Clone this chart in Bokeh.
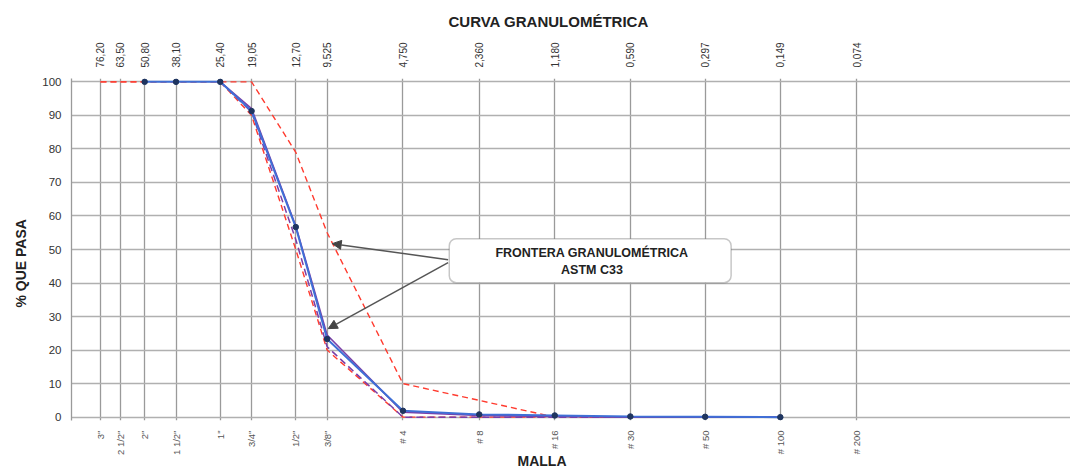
import math
from bokeh.plotting import figure
from bokeh.models import (Range1d, LogAxis, FixedTicker, CustomJSTickFormatter, Label,
                          BoxAnnotation, Arrow, NormalHead, Title)
from bokeh.embed import file_html
from bokeh.resources import INLINE

# ---- data ----
sieve_mm = [76.2, 63.5, 50.8, 38.1, 25.4, 19.05, 12.7, 9.525, 4.75, 2.36, 1.18, 0.59, 0.297, 0.149, 0.074]
size_labels = ["76,20", "63,50", "50,80", "38,10", "25,40", "19,05", "12,70", "9,525",
               "4,750", "2,360", "1,180", "0,590", "0,297", "0,149", "0,074"]
mesh_labels = ['3"', '2 1/2"', '2"', '1 1/2"', '1"', '3/4"', '1/2"', '3/8"',
               '# 4', '# 8', '# 16', '# 30', '# 50', '# 100', '# 200']
y_ticks = [0, 10, 20, 30, 40, 50, 60, 70, 80, 90, 100]

sample_mm = [50.8, 38.1, 25.4, 19.05, 12.7, 9.525, 4.75, 2.36, 1.18, 0.59, 0.297, 0.149]
sample_pass = [100, 100, 100, 91.3, 56.7, 23.3, 1.9, 0.8, 0.5, 0.2, 0.1, 0.0]

limit_mm = [76.2, 63.5, 50.8, 38.1, 25.4, 19.05, 12.7, 9.525, 4.75, 2.36, 1.18, 0.59, 0.297, 0.149]
upper_pass = [100, 100, 100, 100, 100, 100, 79, 55, 10, 5, 0, 0, 0, 0]
lower_pass = [100, 100, 100, 100, 100, 90, 50, 20, 0, 0, 0, 0, 0, 0]

trend_mm = [25.4, 19.05, 12.7, 9.525, 4.75, 2.36, 1.18, 0.59, 0.297, 0.149]
trend_pass = [100, 92, 57, 24.5, 1.5, 0.5, 0.2, 0, 0, 0]
trend_low_pass = [100, 91, 53, 21, 0, 0, 0, 0, 0, 0]

FONT = "Liberation Sans"

p = figure(width=1070, height=467, x_axis_type="log",
           x_range=Range1d(99.4, 0.0104), y_range=Range1d(-1, 101),
           output_backend="svg", toolbar_location=None,
           min_border_left=70, min_border_right=0, min_border_top=78, min_border_bottom=47)
p.outline_line_color = None
p.background_fill_color = "white"

p.title = Title(text="CURVA GRANULOMÉTRICA", align="left", offset=377, standoff=19,
                text_font=FONT, text_font_style="bold", text_font_size="15px",
                text_color="#222222")

fmt_code = """
let best = 0; let bd = Infinity;
for (let i = 0; i < sv.length; i++) {
  const d = Math.abs(Math.log(tick) - Math.log(sv[i]));
  if (d < bd) { bd = d; best = i; }
}
return lab[best];
"""

# bottom axis (mesh)
xb = p.xaxis[0]
xb.ticker = FixedTicker(ticks=sieve_mm)
xb.formatter = CustomJSTickFormatter(args=dict(sv=sieve_mm, lab=mesh_labels), code=fmt_code)
xb.major_label_orientation = math.pi / 2
xb.major_label_standoff = 10
xb.major_tick_out = 0
xb.major_tick_in = 0
xb.minor_tick_out = 0
xb.minor_tick_in = 0
xb.axis_line_color = None
xb.major_label_text_font = FONT
xb.major_label_text_font_size = "9.5px"
xb.major_label_text_color = "#555555"

# top axis (mm)
xt = LogAxis(ticker=FixedTicker(ticks=sieve_mm),
             formatter=CustomJSTickFormatter(args=dict(sv=sieve_mm, lab=size_labels), code=fmt_code))
xt.major_label_orientation = "vertical"
xt.major_label_standoff = 11
xt.major_tick_out = 0
xt.major_tick_in = 0
xt.minor_tick_out = 0
xt.minor_tick_in = 0
xt.axis_line_color = None
xt.major_label_text_font = FONT
xt.major_label_text_font_size = "10px"
xt.major_label_text_color = "#333333"
p.add_layout(xt, "above")

# y axis
ya = p.yaxis[0]
ya.ticker = FixedTicker(ticks=y_ticks)
ya.major_tick_out = 0
ya.major_tick_in = 0
ya.minor_tick_out = 0
ya.minor_tick_in = 0
ya.axis_line_color = "#9a9a9a"
ya.axis_line_width = 1.3
ya.major_label_standoff = 10
ya.major_label_text_font = FONT
ya.major_label_text_font_size = "11.5px"
ya.major_label_text_color = "#333333"

# axis titles
p.add_layout(Title(text="% QUE PASA", align="left", offset=113, standoff=21,
                   text_font=FONT, text_font_style="bold", text_font_size="14px",
                   text_color="#222222"), "left")
p.add_layout(Title(text="MALLA", align="left", offset=446, standoff=-20,
                   text_font=FONT, text_font_style="bold", text_font_size="14px",
                   text_color="#222222"), "below")

# grids
p.xgrid.ticker = FixedTicker(ticks=sieve_mm)
p.xgrid.grid_line_color = "#9a9a9a"
p.xgrid.grid_line_width = 1.3
p.ygrid.ticker = FixedTicker(ticks=y_ticks)
p.ygrid.grid_line_color = "#b0b0b0"
p.ygrid.grid_line_width = 1.3

# series
p.line(limit_mm, upper_pass, line_color="#ff3b2f", line_dash="6 4", line_width=1.4)
p.line(limit_mm, lower_pass, line_color="#ff3b2f", line_dash="6 4", line_width=1.4)
p.line(trend_mm, trend_low_pass, line_color="#7a3fa8", line_dash="7 4", line_width=1.5)
p.line(trend_mm, trend_pass, line_color="#7a3fa8", line_width=1.6)
p.line(sample_mm, sample_pass, line_color="#3f6fd6", line_width=2)
p.scatter(sample_mm, sample_pass, size=5.5, fill_color="#1f3560", line_color="#1f3560")

# annotation box
box = BoxAnnotation(left=3.106, right=0.234, top=53.24, bottom=40.1,
                    fill_color="white", fill_alpha=1.0, line_color="#444444",
                    line_width=1.5, border_radius=7)
p.add_layout(box)
p.add_layout(Label(x=0.839, y=46.4, text="FRONTERA GRANULOMÉTRICA\nASTM C33",
                   text_align="center", text_baseline="middle", text_font=FONT,
                   text_font_style="bold", text_font_size="12.5px", text_color="#222222",
                   text_line_height=1.25))

for xs, ys, xe, ye in [(3.14, 46.97, 9.09, 51.75), (3.14, 46.07, 9.43, 26.4)]:
    p.add_layout(Arrow(x_start=xs, y_start=ys, x_end=xe, y_end=ye,
                       line_color="#555555", line_width=1.5,
                       end=NormalHead(size=9, fill_color="#444444", line_color="#444444")))

open("out.html", "w").write(file_html(p, INLINE))
